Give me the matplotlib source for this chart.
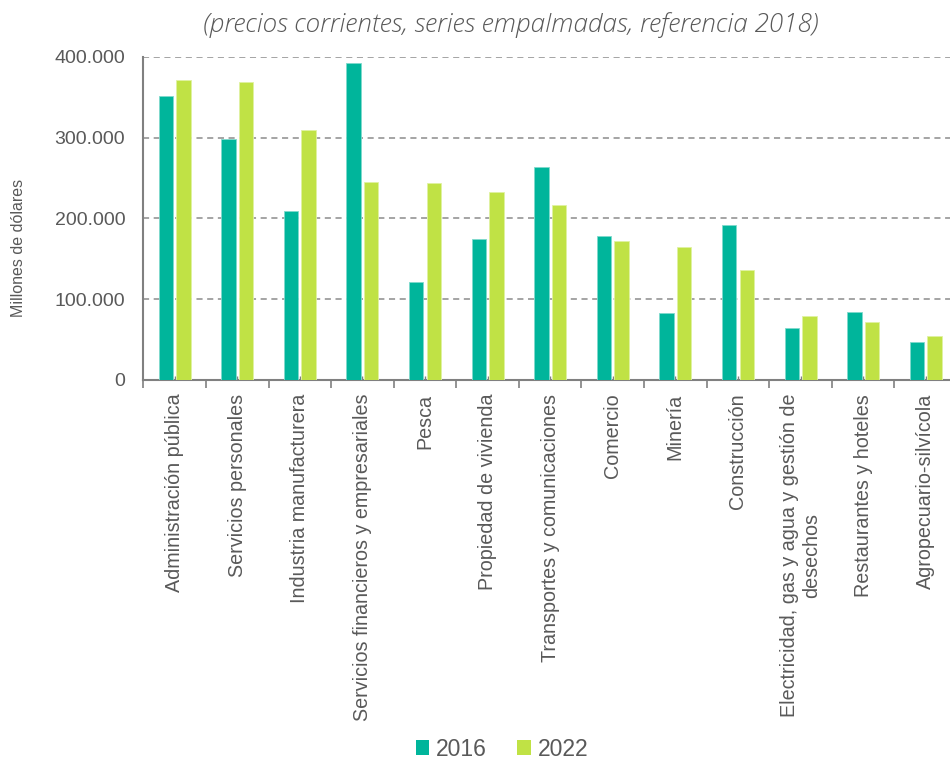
import matplotlib
matplotlib.use("Agg")
import matplotlib.pyplot as plt
import numpy as np
from matplotlib.ticker import FuncFormatter, FixedLocator
from matplotlib.patches import Patch

categories = [
    "Administración pública",
    "Servicios personales",
    "Industria manufacturera",
    "Servicios financieros y empresariales",
    "Pesca",
    "Propiedad de vivienda",
    "Transportes y comunicaciones",
    "Comercio",
    "Minería",
    "Construcción",
    "Electricidad, gas y agua y gestión de\ndesechos",
    "Restaurantes y hoteles",
    "Agropecuario-silvícola",
]
values_2016 = [351800, 297800, 209500, 392600, 121300, 174500, 263900,
               178600, 82500, 192200, 64300, 84100, 46600]
values_2022 = [371200, 369100, 309700, 245000, 243300, 232200, 216100,
               171600, 164900, 136100, 79200, 71800, 54000]
series_labels = ["2016", "2022"]
yticks = [0, 100000, 200000, 300000, 400000]
subtitle = "(precios corrientes, series empalmadas, referencia 2018)"
ylabel = "Millones de dólares"

c2016 = "#00B59B"
c2022 = "#C0E245"
gray = "#595959"

plt.rcParams['font.family'] = ['Liberation Sans', 'DejaVu Sans']

fig = plt.figure(figsize=(9.5, 7.61), dpi=100)
ax = fig.add_axes([0.1509, 0.5007, 1.0074 - 0.1509, 0.9255 - 0.5007])

x = np.arange(len(categories))
w = 0.23
off = 0.141
ax.bar(x - off, values_2016, width=w, color=c2016, edgecolor="#7FDACD", linewidth=0.6, zorder=3)
ax.bar(x + off, values_2022, width=w, color=c2022, edgecolor="#E0F2A2", linewidth=0.6, zorder=3)

ax.set_xlim(-0.5, len(categories) - 0.5)
ax.set_ylim(0, 400000)
ax.set_yticks(yticks)
ax.yaxis.set_major_formatter(FuncFormatter(lambda v, p: f"{int(v):,}".replace(",", ".")))
ax.tick_params(axis='y', length=0, labelsize=14, labelcolor=gray, pad=13)

ax.xaxis.set_major_locator(FixedLocator(np.arange(len(categories) + 1) - 0.5))
ax.xaxis.set_minor_locator(FixedLocator(x))
ax.set_xticklabels([""] * (len(categories) + 1))
ax.set_xticklabels(categories, minor=True, rotation=90, ha="center", va="top",
                   fontsize=14.2, color=gray, multialignment="center")
ax.tick_params(axis='x', which='major', length=6, width=1.2, color="#808080", direction='out')
ax.tick_params(axis='x', which='minor', length=3, width=1.0, color="#808080", direction='in', pad=10)

for v in yticks[1:]:
    ax.axhline(v, color="#8C8C8C", linestyle=(0, (4, 3)), linewidth=1.1, zorder=1)

for s in ["top", "right"]:
    ax.spines[s].set_visible(False)
for s in ["left", "bottom"]:
    ax.spines[s].set_color("#808080")
    ax.spines[s].set_linewidth(1.5)

fig.text(19 / 950, 1 - 248 / 761, ylabel, rotation=90, ha="center", va="center",
         fontsize=11.5, color=gray)
fig.text(511 / 950, 1 - 25 / 761, subtitle, ha="center", va="center",
         fontsize=18.8, color=gray, style="italic", weight="light",
         family=["Open Sans", "DejaVu Sans"])

handles = [Patch(facecolor=c2016), Patch(facecolor=c2022)]
fig.legend(handles, series_labels, loc="center", bbox_to_anchor=(502 / 950, 1 - 749 / 761),
           ncol=2, frameon=False, fontsize=16.5, labelcolor=gray, handlelength=0.6,
           handleheight=0.6, handletextpad=0.3, columnspacing=1.3)

fig.savefig("out.png", dpi=100)
